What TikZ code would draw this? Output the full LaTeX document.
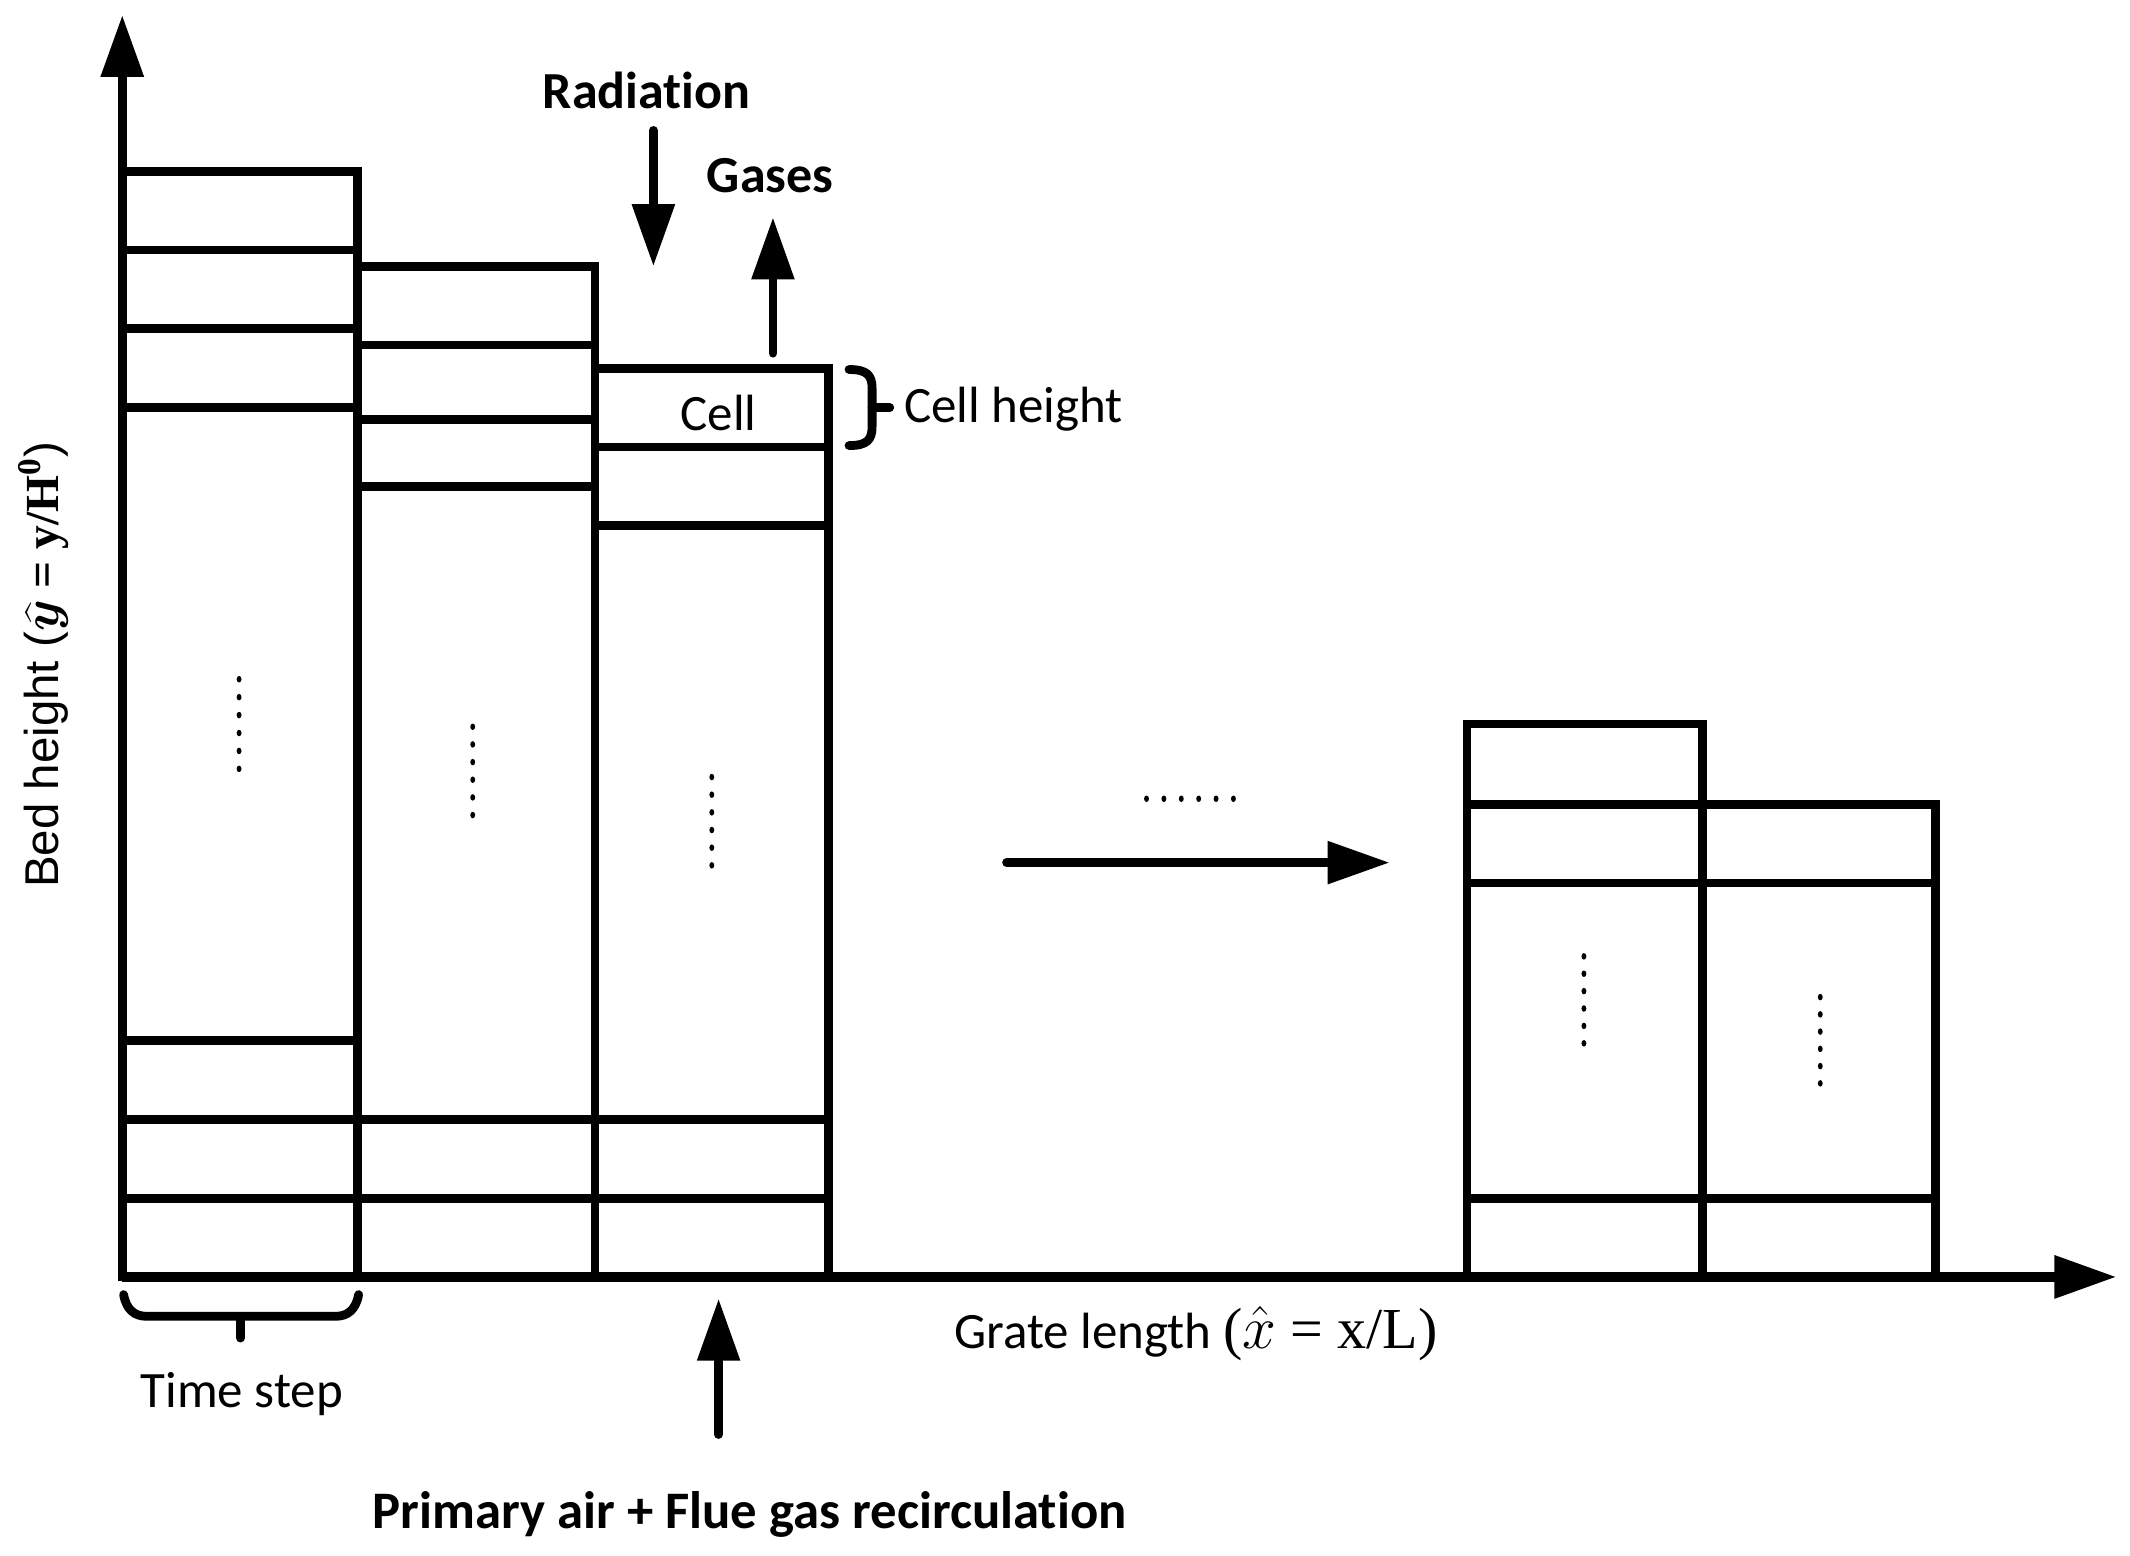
\documentclass[tikz,border=0pt]{standalone}
\usepackage{fontspec}
\setmainfont{Carlito}[Ligatures={NoCommon}]
\newfontfamily\serifm{Liberation Serif}
\newfontfamily\arialf{Liberation Sans}
\usetikzlibrary{arrows.meta}
\begin{document}
\begin{tikzpicture}[x=0.013584cm, y=-0.013584cm,
  font=\fontsize{14.5}{17}\selectfont,
  box/.style={line width=2.5pt},
  axisline/.style={line width=2.7pt, -{Triangle[length=0.62cm,width=0.41cm]}},
  flow/.style={line width=2.5pt, line cap=round, -{Triangle[length=0.62cm,width=0.41cm]}},
  bracel/.style={line width=2.5pt, line cap=round},
  lbl/.style={inner sep=0pt, anchor=base},
  blbl/.style={inner sep=0pt, anchor=base, font=\fontsize{14.8}{17}\selectfont\bfseries}]
\useasboundingbox (0,0) rectangle (1568,1145);

% column 1
\draw[box] (90,126) rectangle (263,940);
\foreach \yy in {184,242,300,766,824,882} \draw[box] (90,\yy) -- (263,\yy);
% column 2
\draw[box] (263,196) rectangle (438,940);
\foreach \yy in {254,309,358,824,882} \draw[box] (263,\yy) -- (438,\yy);
% column 3
\draw[box] (438,271) rectangle (610,940);
\foreach \yy in {329,387,824,882} \draw[box] (438,\yy) -- (610,\yy);
% column 4
\draw[box] (1080,533) rectangle (1253,940);
\foreach \yy in {592,650,882} \draw[box] (1080,\yy) -- (1253,\yy);
% column 5
\draw[box] (1253,592) rectangle (1425,940);
\foreach \yy in {650,882} \draw[box] (1253,\yy) -- (1425,\yy);

% dots
\foreach \i in {0,...,5} {
  \fill (176,500+\i*13.2) ellipse[x radius=1.8, y radius=2.4];
  \fill (348,535+\i*13) ellipse[x radius=1.8, y radius=2.4];
  \fill (524,572+\i*13) ellipse[x radius=1.8, y radius=2.4];
  \fill (1166,704+\i*12.8) ellipse[x radius=1.8, y radius=2.4];
  \fill (1340,734+\i*12.7) ellipse[x radius=1.8, y radius=2.4];
  \fill (844+\i*12.8,588) ellipse[x radius=1.8, y radius=2.4];
}

% axes
\coordinate (O) at (90,940);
\coordinate (ytip) at (90,11);
\coordinate (xtip) at (1558,940);
\draw[axisline] (O) -- (ytip);
\draw[axisline] (O) -- (xtip);

% labels
\node[blbl] (rad) at (476,80) {Radiation};
\node[blbl] (gas) at (567,142) {Gases};
\node[lbl] (cell) at (529,317) {Cell};
\node[lbl, anchor=base west] (cellh) at (665,311) {Cell height};
\node[lbl] (tstep) at (178,1036) {Time step};
\node[blbl, font=\fontsize{15}{17}\selectfont\bfseries] (prim) at (552,1125) {Primary air + Flue gas recirculation};
\node[lbl, anchor=base west] (grate) at (702,993)
  {Grate length {\fontsize{16.5}{18}\selectfont\serifm($\hat{x}$ = x/L)}};
\node[lbl, anchor=base west, rotate=90, font=\fontsize{13.5}{16}\selectfont\arialf] (bed) at (43,654)
  {Bed height ({\serifm\bfseries{\boldmath$\widehat{y}$} = y/H\textsuperscript{0}})};

% flow arrows
\coordinate (radA) at (481,96);
\coordinate (radB) at (481,196);
\draw[flow] (radA) -- (radB);
\coordinate (gasA) at (569,260);
\coordinate (gasB) at (569,160);
\draw[flow] (gasA) -- (gasB);
\coordinate (primA) at (529,1056);
\coordinate (primB) at (529,956);
\draw[flow] (primA) -- (primB);
\coordinate (midA) at (741,635);
\coordinate (midB) at (1023,635);
\draw[flow] (midA) -- (midB);

% cell height brace
\draw[bracel] (625,272) .. controls (638,272) and (642,276) .. (642,286) -- (642,314)
  .. controls (642,324) and (638,328) .. (625,328);
\draw[bracel] (642,300) -- (655,300);

% time step brace
\draw[bracel] (91,953) .. controls (93,964) and (99,969) .. (108,969) -- (247,969)
  .. controls (256,969) and (262,964) .. (264,953);
\draw[bracel] (177,969) -- (177,985);
\end{tikzpicture}
\end{document}
